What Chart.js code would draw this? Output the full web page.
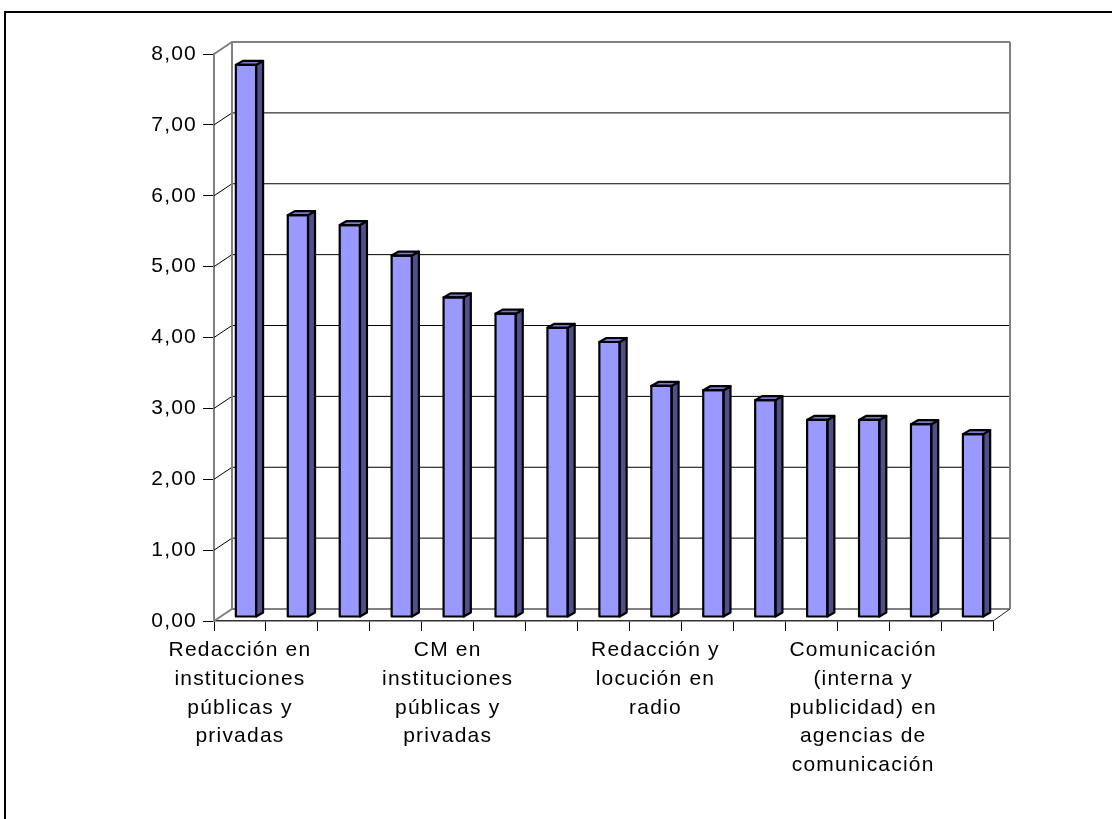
<!DOCTYPE html>
<html>
<head>
    <meta charset="utf-8">
    <title>Chart</title>
    <script src="https://cdn.jsdelivr.net/npm/chart.js"></script>
    <style>
        html, body { margin: 0; padding: 0; background: #fff; overflow: hidden; }
        canvas { position: absolute; left: 0; top: 0; }
        .frame {
            position: absolute;
            left: 4px;
            top: 11px;
            width: 1120px;
            height: 820px;
            border-top: 2px solid #000;
            border-left: 2px solid #000;
        }
    </style>
</head>
<body>
    <canvas id="barChart" width="1112" height="819"></canvas>
    <div class="frame"></div>
    <script>
        // only every fourth category label is printed in the original
        const categories = [
            ['Redacción en', 'instituciones', 'públicas y', 'privadas'], '', '', '',
            ['CM en', 'instituciones', 'públicas y', 'privadas'], '', '', '',
            ['Redacción y', 'locución en', 'radio'], '', '', '',
            ['Comunicación', '(interna y', 'publicidad) en', 'agencias de', 'comunicación'], '', ''
        ];
        const values = [7.79, 5.67, 5.53, 5.10, 4.51, 4.28, 4.08, 3.88, 3.26, 3.20, 3.06, 2.78, 2.78, 2.72, 2.58];
        const yTicks = [0, 1, 2, 3, 4, 5, 6, 7, 8];

        const DX = 18, DY = -12;   // back wall offset
        const BX = 6, BY = -4;     // where bars sit in the depth
        const SX = 7, SY = -4;     // bar depth

        const threeD = {
            id: 'threeD',
            beforeDraw(chart) {
                chart.ctx.letterSpacing = '1.2px';
            },
            beforeDatasetsDraw(chart) {
                const { ctx, chartArea: a, scales: { y } } = chart;
                const top = y.getPixelForValue(yTicks[yTicks.length - 1]);
                const bottom = y.getPixelForValue(0);
                ctx.save();
                // gridlines on the back wall + diagonals on the side wall
                yTicks.forEach(v => {
                    const py = y.getPixelForValue(v);
                    const edge = v === 0 || v === yTicks[yTicks.length - 1];
                    ctx.strokeStyle = edge ? '#808080' : '#000';
                    ctx.lineWidth = edge ? 2 : 1;
                    ctx.beginPath();
                    ctx.moveTo(a.left, py);
                    ctx.lineTo(a.left + DX, py + DY);
                    ctx.lineTo(a.right + DX - 1, py + DY);
                    ctx.stroke();
                });
                ctx.strokeStyle = '#808080';
                ctx.lineWidth = 2;
                ctx.beginPath();
                ctx.moveTo(a.left + DX, top + DY);
                ctx.lineTo(a.left + DX, bottom + DY);
                ctx.moveTo(a.right + DX - 1, top + DY);
                ctx.lineTo(a.right + DX - 1, bottom + DY);
                ctx.stroke();
                ctx.strokeStyle = '#222';
                ctx.lineWidth = 1;
                ctx.beginPath();
                ctx.moveTo(a.right, bottom);
                ctx.lineTo(a.right + DX - 1, bottom + DY);
                ctx.stroke();
                ctx.restore();

                ctx.save();
                ctx.translate(BX, BY);
            },
            afterDatasetsDraw(chart) {
                const ctx = chart.ctx;
                ctx.restore();
                ctx.save();
                ctx.strokeStyle = '#000';
                ctx.lineWidth = 2.2;
                ctx.lineJoin = 'round';
                chart.getDatasetMeta(0).data.forEach(bar => {
                    const l = bar.x - bar.width / 2 + BX;
                    const r = bar.x + bar.width / 2 + BX;
                    const t = bar.y + BY;
                    const b = bar.base + BY;
                    ctx.beginPath();
                    ctx.moveTo(r, t);
                    ctx.lineTo(r + SX, t + SY);
                    ctx.lineTo(r + SX, b + SY);
                    ctx.lineTo(r, b);
                    ctx.closePath();
                    ctx.fillStyle = '#4F4F8C';
                    ctx.fill();
                    ctx.stroke();
                    ctx.beginPath();
                    ctx.moveTo(l, t);
                    ctx.lineTo(l + SX, t + SY);
                    ctx.lineTo(r + SX, t + SY);
                    ctx.lineTo(r, t);
                    ctx.closePath();
                    ctx.fillStyle = '#7878D0';
                    ctx.fill();
                    ctx.stroke();
                    ctx.strokeRect(l, t, r - l, b - t);
                });
                ctx.restore();
            }
        };

        const font = { family: "'Liberation Sans', Arial, sans-serif", size: 21 };

        new Chart(document.getElementById('barChart'), {
            type: 'bar',
            data: {
                labels: categories,
                datasets: [{
                    data: values,
                    backgroundColor: '#9999FF',
                    borderWidth: 0,
                    barPercentage: 0.39,
                    categoryPercentage: 1,
                    clip: false
                }]
            },
            options: {
                responsive: false,
                animation: false,
                layout: { padding: { left: 0, top: 54, right: 119, bottom: 0 } },
                plugins: {
                    legend: { display: false },
                    tooltip: { enabled: false }
                },
                scales: {
                    x: {
                        afterFit: s => { s.height = 198; },
                        grid: { drawOnChartArea: false, offset: true, tickLength: 10, color: '#000', lineWidth: 1 },
                        border: { color: '#333', width: 1.5 },
                        ticks: {
                            autoSkip: false,
                            maxRotation: 0,
                            padding: 5,
                            color: '#000',
                            font: { ...font, lineHeight: 1.37 }
                        }
                    },
                    y: {
                        min: 0,
                        max: 8,
                        afterFit: s => { s.width = 214; },
                        afterBuildTicks: s => { s.ticks = yTicks.map(v => ({ value: v })); },
                        grid: { drawOnChartArea: false, tickLength: 11, color: '#000', lineWidth: 1 },
                        border: { color: '#808080', width: 2 },
                        ticks: {
                            padding: 6,
                            color: '#000',
                            font: font,
                            callback: v => v.toFixed(2).replace('.', ',')
                        }
                    }
                }
            },
            plugins: [threeD]
        });
    </script>
</body>
</html>
